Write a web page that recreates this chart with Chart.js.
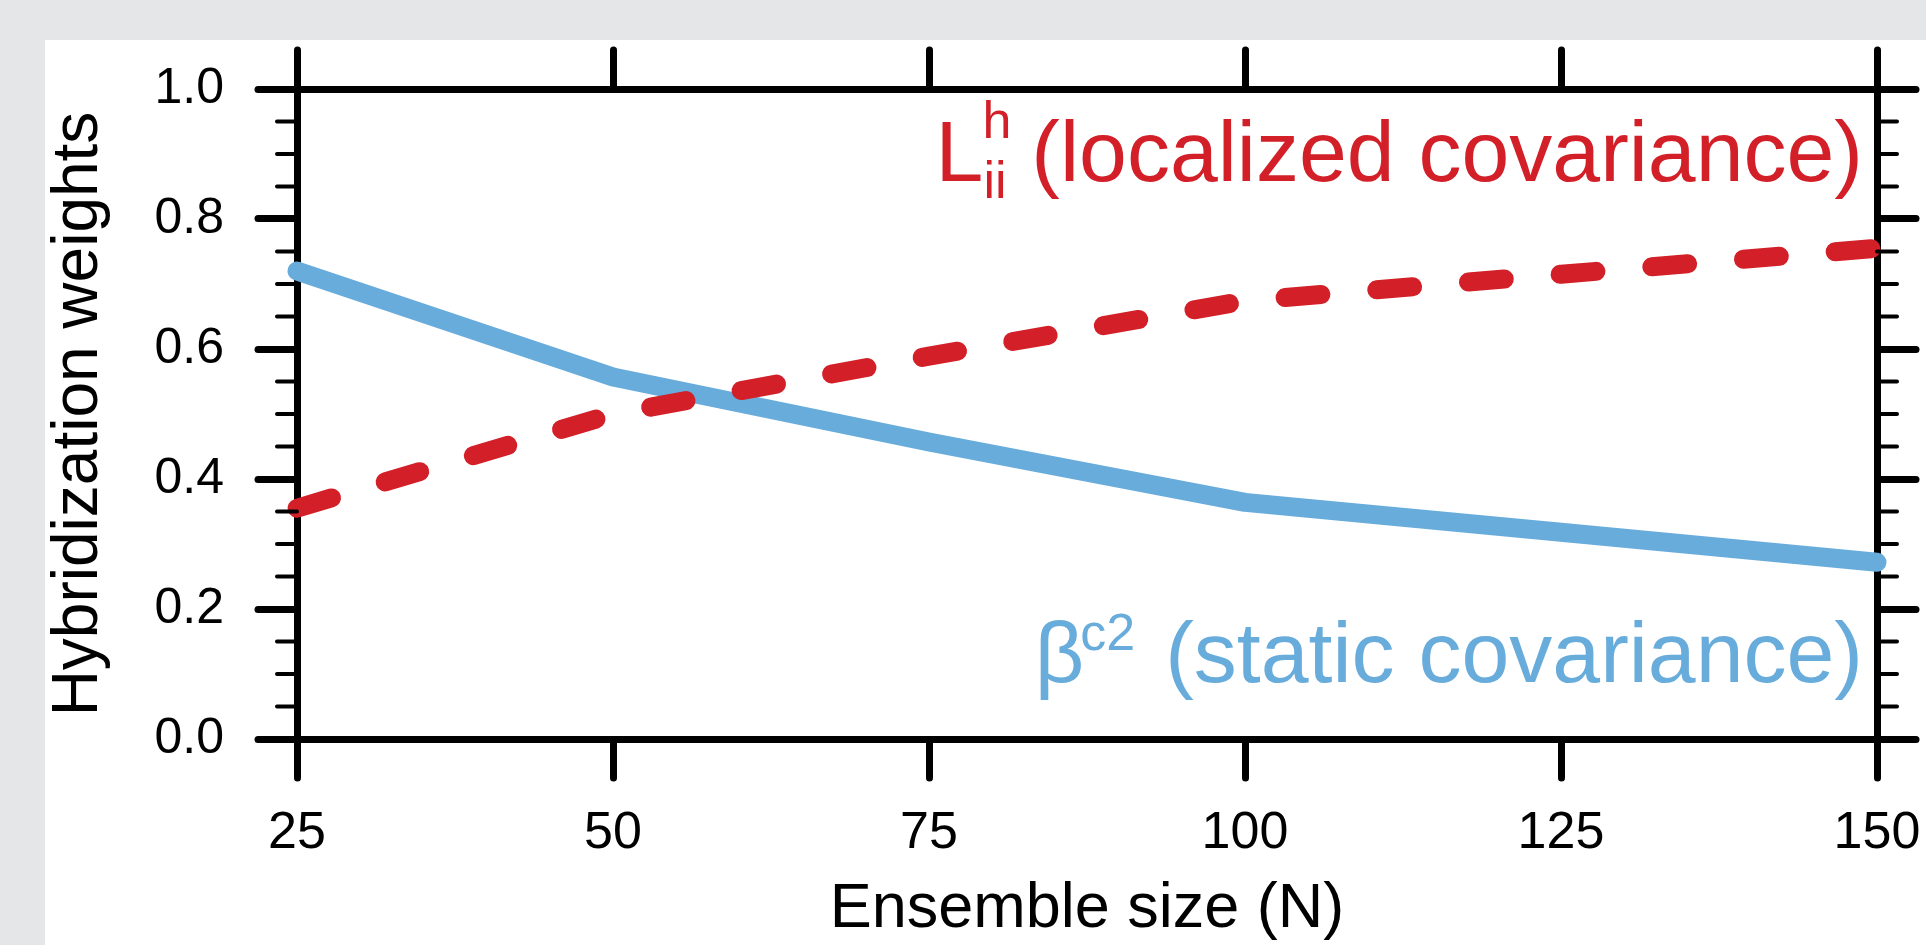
<!DOCTYPE html>
<html>
<head>
<meta charset="utf-8">
<title>Hybridization weights vs ensemble size</title>
<script src="https://cdn.jsdelivr.net/npm/chart.js@4.4.1/dist/chart.umd.min.js"></script>
<style>
  html, body { margin: 0; padding: 0; overflow: hidden; background: #e5e6e8; }
  #panel { position: absolute; left: 45px; top: 40px; right: 0; bottom: 0; background: #fff; }
  #chart { position: absolute; left: 0; top: 0; }
</style>
</head>
<body>
<div id="panel"></div>
<canvas id="chart" width="1926" height="945"></canvas>
<script>
// values
const ensembleSizes = [25, 50, 75, 100, 125, 150];
const localizedWeights = [0.355, 0.50, 0.589, 0.674, 0.715, 0.755]; // L_ii^h
const staticWeights = [0.72, 0.557, 0.457, 0.364, 0.318, 0.272];    // beta^c2
const yRange = [0, 1];
const yMajorStep = 0.2;
const yMinorStep = 0.05;
const xStep = 25;

const BLUE = '#68acdc';
const RED = '#d21f28';
const FONT = "'Liberation Sans', Arial, Helvetica, sans-serif";

Chart.defaults.font.family = FONT;
Chart.defaults.color = '#000';

function toPoints(ys) {
  return ensembleSizes.map((x, i) => ({ x: x, y: ys[i] }));
}

// shared axis look: thick frame, outward ticks
function axisGrid() {
  return { drawOnChartArea: false, drawTicks: true, tickLength: 39, tickWidth: 7, tickColor: '#000' };
}
const axisBorder = { display: true, width: 7, color: '#000' };

// keep the frame exactly where it is in the figure (no label overhang padding)
function fixHeight(h) {
  return s => { s.height = h; s.paddingLeft = 0; s.paddingRight = 0; };
}
function fixWidth(w) {
  return s => { s.width = w; s.paddingTop = 0; s.paddingBottom = 0; };
}

// round caps for the frame and major ticks
const roundCaps = {
  id: 'roundCaps',
  beforeDraw(chart) { chart.ctx.lineCap = 'round'; }
};

// minor ticks every 0.05 on left and right axes
const minorTicks = {
  id: 'minorTicks',
  afterDraw(chart) {
    const ctx = chart.ctx;
    const { left, right } = chart.chartArea;
    const y = chart.scales.y;
    const n = Math.round((yRange[1] - yRange[0]) / yMinorStep);
    const every = Math.round(yMajorStep / yMinorStep);
    ctx.save();
    ctx.strokeStyle = '#000';
    ctx.lineWidth = 4;
    ctx.lineCap = 'round';
    ctx.beginPath();
    for (let i = 0; i <= n; i++) {
      if (i % every === 0) continue;
      const py = y.getPixelForValue(yRange[0] + i * yMinorStep);
      ctx.moveTo(left - 20, py); ctx.lineTo(left, py);
      ctx.moveTo(right, py); ctx.lineTo(right + 20, py);
    }
    ctx.stroke();
    ctx.restore();
  }
};

// in-plot curve labels with super/subscripts
const curveLabels = {
  id: 'curveLabels',
  afterDraw(chart) {
    const ctx = chart.ctx;
    const { right, top, bottom } = chart.chartArea;
    const big = '86px ' + FONT;
    const small = '52px ' + FONT;
    const end = right - 14;
    ctx.save();
    ctx.textAlign = 'left';
    ctx.textBaseline = 'alphabetic';

    // L_ii^h (localized covariance)
    let base = top + 92;
    ctx.fillStyle = RED;
    ctx.font = big;
    let txt = '(localized covariance)';
    let x0 = end - ctx.measureText(txt).width;
    ctx.fillText(txt, x0, base);
    ctx.font = small;
    let sx = x0 - 20 - Math.max(ctx.measureText('h').width, ctx.measureText('ii').width);
    ctx.fillText('h', sx, base - 43);
    ctx.fillText('ii', sx + 1, base + 17);
    ctx.font = big;
    ctx.fillText('L', sx - ctx.measureText('L').width + 1, base);

    // beta^c2 (static covariance)
    base = bottom - 57;
    ctx.fillStyle = BLUE;
    ctx.font = big;
    txt = '(static covariance)';
    x0 = end - ctx.measureText(txt).width;
    ctx.fillText(txt, x0, base);
    ctx.font = small;
    sx = x0 - 30 - ctx.measureText('c2').width;
    ctx.fillText('c2', sx, base - 32);
    ctx.font = big;
    ctx.fillText('\u03B2', sx - ctx.measureText('\u03B2').width + 4, base);
    ctx.restore();
  }
};

new Chart(document.getElementById('chart'), {
  type: 'line',
  data: {
    datasets: [
      {
        label: 'L_ii^h (localized covariance)',
        data: toPoints(localizedWeights),
        borderColor: RED,
        borderWidth: 19,
        borderDash: [36, 56],
        borderCapStyle: 'round',
        borderJoinStyle: 'round',
        pointRadius: 0,
        tension: 0,
        clip: false
      },
      {
        label: 'beta^c2 (static covariance)',
        data: toPoints(staticWeights),
        borderColor: BLUE,
        borderWidth: 19,
        borderCapStyle: 'round',
        borderJoinStyle: 'round',
        pointRadius: 0,
        tension: 0,
        clip: false
      }
    ]
  },
  options: {
    responsive: false,
    animation: false,
    layout: { padding: 0 },
    plugins: { legend: { display: false }, tooltip: { enabled: false } },
    scales: {
      x: {
        type: 'linear', position: 'bottom', z: 1,
        min: ensembleSizes[0], max: ensembleSizes[ensembleSizes.length - 1],
        ticks: { stepSize: xStep, padding: 24, font: { size: 52, lineHeight: 1.2 }, color: '#000', maxRotation: 0 },
        grid: axisGrid(),
        border: axisBorder,
        title: { display: true, text: 'Ensemble size (N)', font: { size: 63, lineHeight: 1 }, padding: { top: 0, bottom: 4 }, color: '#000' },
        afterFit: fixHeight(206)
      },
      x2: {
        type: 'linear', position: 'top', z: 1,
        min: ensembleSizes[0], max: ensembleSizes[ensembleSizes.length - 1],
        ticks: { stepSize: xStep, display: false },
        grid: axisGrid(),
        border: axisBorder,
        afterFit: fixHeight(89)
      },
      y: {
        type: 'linear', position: 'left', z: 1,
        min: yRange[0], max: yRange[1],
        ticks: { stepSize: yMajorStep, padding: 34, font: { size: 50 }, color: '#000', callback: v => v.toFixed(1) },
        grid: axisGrid(),
        border: axisBorder,
        title: { display: true, text: 'Hybridization weights', font: { size: 64, lineHeight: 1 }, padding: { top: 47, bottom: 0 }, color: '#000' },
        afterFit: fixWidth(297)
      },
      y2: {
        type: 'linear', position: 'right', z: 1,
        min: yRange[0], max: yRange[1],
        ticks: { stepSize: yMajorStep, display: false },
        grid: axisGrid(),
        border: axisBorder,
        afterFit: fixWidth(49)
      }
    }
  },
  plugins: [roundCaps, minorTicks, curveLabels]
});
</script>
</body>
</html>
